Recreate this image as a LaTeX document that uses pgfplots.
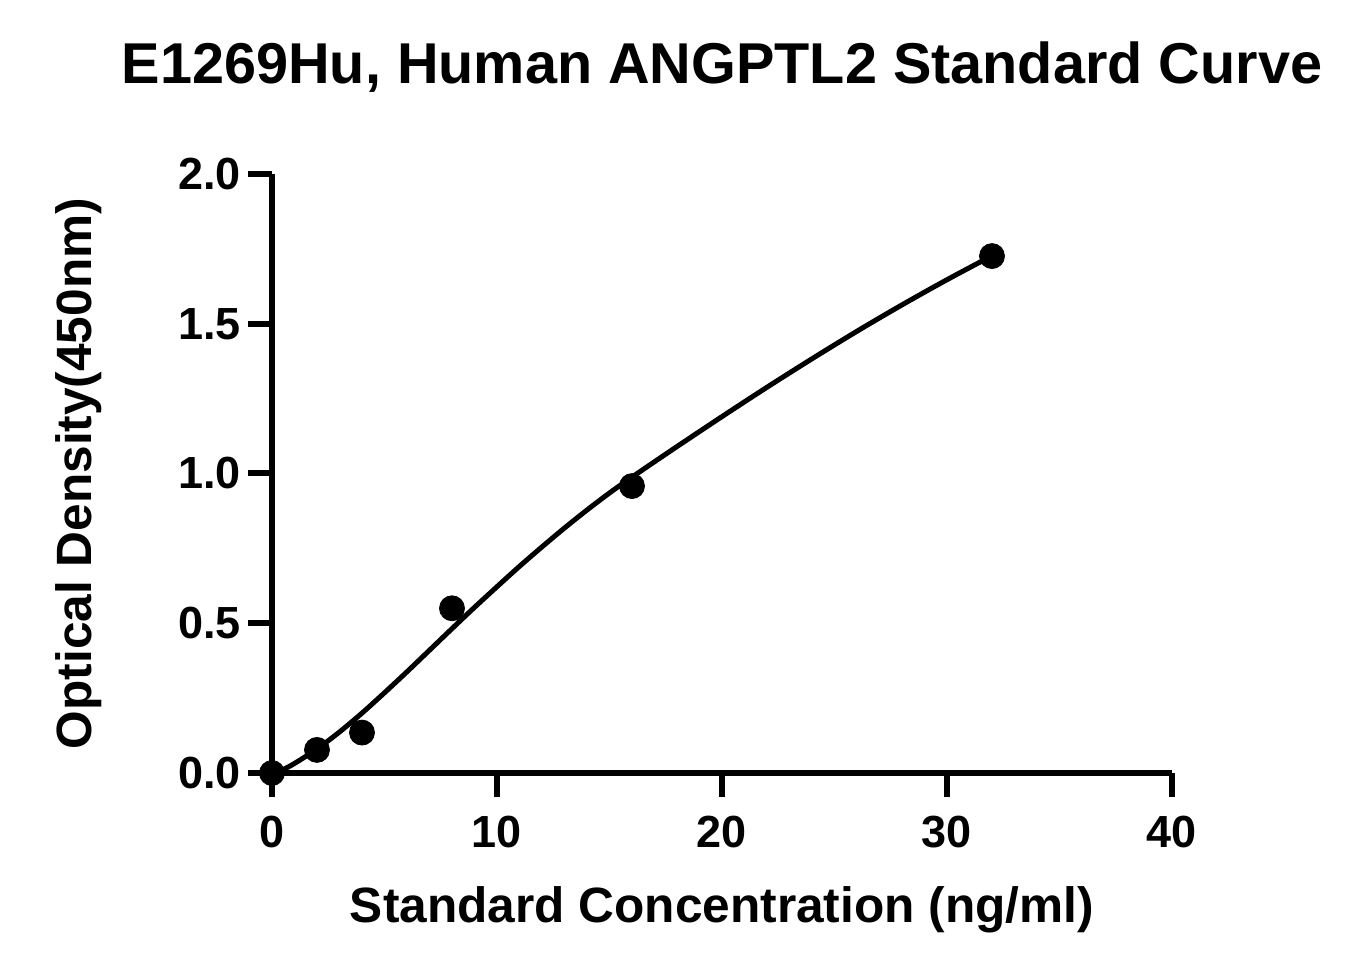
\documentclass[border=0pt]{standalone}
\usepackage{fontspec}
\setmainfont{Liberation Sans}
\usepackage{pgfplots}
\pgfplotsset{compat=1.18}
\begin{document}
\begin{tikzpicture}
\begin{axis}[
  scale only axis, width=450bp, height=299.5bp,
  xmin=0, xmax=40, ymin=0, ymax=2,
  xtick={0,10,20,30,40}, ytick={0,0.5,1,1.5,2},
  axis lines=left, axis line style={-, line width=3bp},
  tick align=outside, major tick length=12bp,
  every tick/.style={black, line width=3bp},
  clip=false,
  /pgf/number format/assume math mode=true,
  ticklabel style={font=\fontsize{22.5bp}{26bp}\selectfont\bfseries},
  x tick label style={yshift=-6bp},
  y tick label style={/pgf/number format/fixed, /pgf/number format/fixed zerofill, /pgf/number format/precision=1},
  title={E1269Hu, Human ANGPTL2 Standard Curve},
  title style={font=\fontsize{28.8bp}{34bp}\selectfont\bfseries, at={([yshift=339bp]axis description cs:0.5,0)}, anchor=base},
  xlabel={Standard Concentration (ng/ml)},
  xlabel style={font=\fontsize{24.8bp}{30bp}\selectfont\bfseries, at={([yshift=-74.5bp]axis description cs:0.5,0)}, anchor=base},
  ylabel={Optical Density(450nm)},
  ylabel style={font=\fontsize{24.8bp}{30bp}\selectfont\bfseries, at={([xshift=-90bp]axis description cs:0,0.5)}, anchor=base},
]
% fitted standard curve
\addplot[black, line width=2.5bp, smooth] table {
x y
0 0
0.5 0.012
1 0.032
2 0.080
3 0.137
4 0.200
5 0.268
6 0.338
7 0.410
8 0.482
9 0.553
10 0.622
11 0.690
12 0.755
13 0.818
14 0.878
15 0.935
16 0.988
18 1.090
20 1.190
22 1.288
24 1.383
26 1.475
28 1.563
30 1.647
32 1.727
};
% measured standards
\addplot[only marks, mark=*, mark size=6.25bp, black] coordinates {
(0,0) (2,0.077) (4,0.135) (8,0.550) (16,0.958) (32,1.726)
};
\end{axis}
\path[use as bounding box] (-136bp,-101bp) rectangle (548bp,386.5bp);
\end{tikzpicture}
\end{document}
